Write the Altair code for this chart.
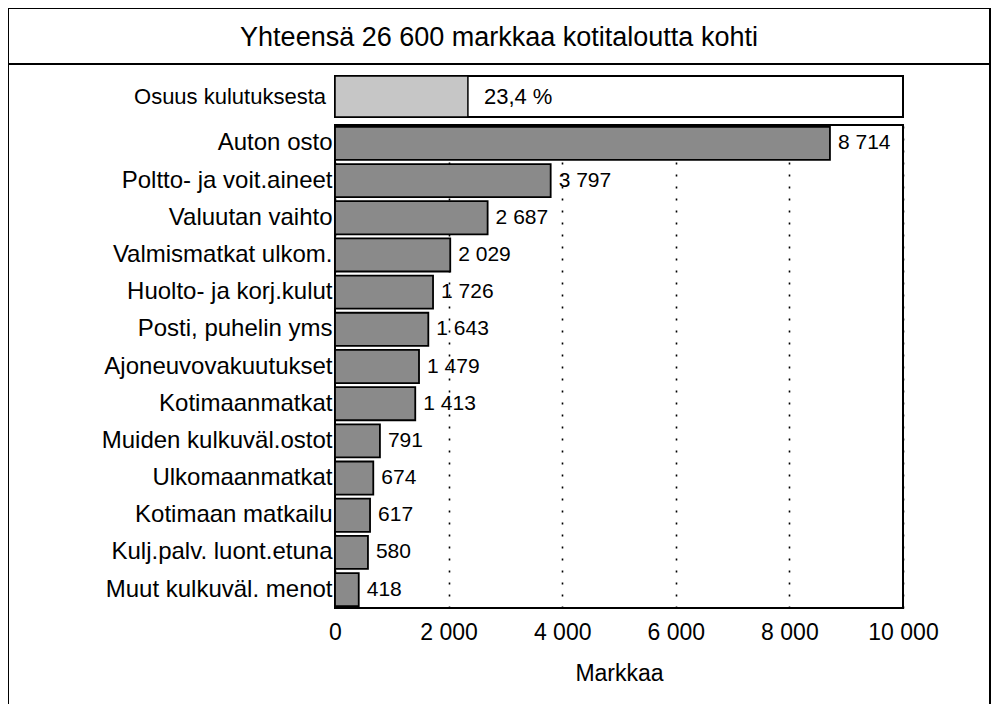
import altair as alt
import pandas as pd

categories = [
    "Auton osto", "Poltto- ja voit.aineet", "Valuutan vaihto", "Valmismatkat ulkom.",
    "Huolto- ja korj.kulut", "Posti, puhelin yms", "Ajoneuvovakuutukset", "Kotimaanmatkat",
    "Muiden kulkuväl.ostot", "Ulkomaanmatkat", "Kotimaan matkailu", "Kulj.palv. luont.etuna",
    "Muut kulkuväl. menot",
]
values = [8714, 3797, 2687, 2029, 1726, 1643, 1479, 1413, 791, 674, 617, 580, 418]
x_ticks = [0, 2000, 4000, 6000, 8000, 10000]
share_label = "Osuus kulutuksesta"
share_value = [23.4]
title_text = "Yhteensä 26 600 markkaa kotitaloutta kohti"
x_title = "Markkaa"

W, H = 568, 483
FONT = "Liberation Sans"

df = pd.DataFrame({"cat": categories, "val": values})
one = pd.DataFrame({"t": [title_text]})
sh = pd.DataFrame({"share": share_value, "lab": [share_label], "zero": [0.0]})

xscale = alt.Scale(domain=[0, 10000], nice=False, zero=True)
yenc = alt.Y("cat:N", sort=categories, title=None,
             scale=alt.Scale(paddingInner=0.11, paddingOuter=0.05),
             axis=alt.Axis(ticks=False, domain=False, labelPadding=3, labelFontSize=24,
                           labelFont=FONT, labelColor="black", labelLimit=0, grid=False))

bars = alt.Chart(df).mark_bar(fill="#8a8a8a", stroke="black", strokeWidth=1.8).encode(
    x=alt.X("val:Q", scale=xscale, title=x_title,
            axis=alt.Axis(values=x_ticks, ticks=False, domain=False, grid=True,
                          gridColor="black", gridDash=[2, 10], gridWidth=1.6,
                          labelFontSize=23, labelFont=FONT, labelColor="black",
                          labelPadding=13, labelFlush=False,
                          labelExpr="replace(format(datum.value, ','), ',', ' ')",
                          titleFontSize=23, titleFont=FONT, titleFontWeight="normal",
                          titleColor="black", titlePadding=18)),
    y=yenc,
)

vals = alt.Chart(df).transform_calculate(
    lab="replace(format(datum.val, ','), ',', ' ')"
).mark_text(align="left", baseline="middle", dx=8, fontSize=21, font=FONT, color="black").encode(
    x=alt.X("val:Q", scale=xscale), y=alt.Y("cat:N", sort=categories), text="lab:N")

main = alt.layer(bars, vals)

border = alt.Chart(one).mark_rect(fill="transparent", stroke="black", strokeWidth=2).encode(
    x=alt.value(-327), x2=alt.value(655), y=alt.value(-117), y2=alt.value(720))
hline = alt.Chart(one).mark_rule(color="black", strokeWidth=2).encode(
    x=alt.value(-327), x2=alt.value(655), y=alt.value(-61))
title = alt.Chart(one).mark_text(fontSize=27, font=FONT, color="black", baseline="middle").encode(
    x=alt.value(164), y=alt.value(-87), text="t:N")

sscale = alt.Scale(domain=[0, 100], nice=False)
sbox = alt.Chart(sh).mark_rect(fill="white", stroke="black", strokeWidth=2).encode(
    x=alt.value(0), x2=alt.value(W), y=alt.value(-49), y2=alt.value(-8))
sbar = alt.Chart(sh).mark_rect(fill="#c6c6c6", stroke="black", strokeWidth=1.5).encode(
    x=alt.X("zero:Q", scale=sscale, axis=None), x2=alt.X2("share:Q"),
    y=alt.value(-49), y2=alt.value(-8))
slab = alt.Chart(sh).mark_text(align="right", baseline="middle", fontSize=22, font=FONT,
                               color="black").encode(
    x=alt.value(-9), y=alt.value(-28), text="lab:N")
sval = alt.Chart(sh).transform_calculate(
    v="replace(format(datum.share, '.1f'), '.', ',') + ' %'"
).mark_text(align="left", baseline="middle", dx=16, fontSize=22, font=FONT, color="black").encode(
    x=alt.X("share:Q", scale=sscale, axis=None), y=alt.value(-28), text="v:N")

share_layer = alt.layer(sbox, sbar, slab, sval)
deco = alt.layer(border, hline, title)

chart = alt.layer(deco, main, share_layer).resolve_scale(x="independent").properties(
    width=W, height=H,
    autosize=alt.AutoSizeParams(type="none"),
    padding={"left": 327, "top": 117, "right": 89, "bottom": 96},
    background="white",
).configure_view(stroke="black", strokeWidth=2)

chart.save("out.html", embed_options={"renderer": "svg", "actions": False})
